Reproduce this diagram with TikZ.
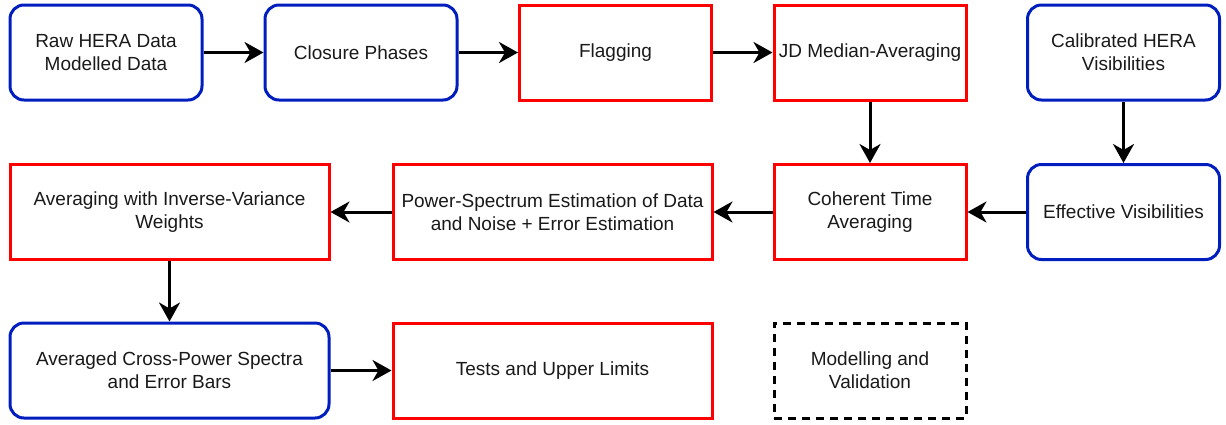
\documentclass[tikz,border=0pt]{standalone}
\usepackage{fontspec}
\setmainfont{Liberation Sans}
\usetikzlibrary{arrows.meta}
\definecolor{bblue}{RGB}{0,30,190}
\definecolor{rred}{RGB}{255,0,0}
\begin{document}
\begin{tikzpicture}[x=1pt,y=-1pt,
 box/.style={minimum height=95pt, inner sep=1pt, align=center, line width=3pt, font=\fontsize{19}{23}\selectfont, text=black!90},
 bluebox/.style={box, draw=bblue, rounded corners=14pt},
 redbox/.style={box, draw=rred},
 dashbox/.style={box, draw=black, dash pattern=on 8pt off 6pt},
 narrow/.style={minimum width=192pt},
 wide/.style={minimum width=319pt},
 arr/.style={-{Stealth[length=19pt,width=21pt,inset=6pt]}, line width=3pt}]
\useasboundingbox (0,0) rectangle (1226,424);
\node[bluebox,narrow] (raw) at (106,52.5) {Raw HERA Data\\Modelled Data};
\node[bluebox,narrow] (clo) at (361,52.5) {Closure Phases};
\node[redbox,narrow] (flag) at (615.5,52.5) {Flagging};
\node[redbox,narrow] (jd) at (870,52.5) {JD Median-Averaging};
\node[bluebox,narrow] (cal) at (1123.5,52.5) {Calibrated HERA\\Visibilities};
\node[redbox,wide] (avg) at (169.5,212) {Averaging with Inverse-Variance\\Weights};
\node[redbox,wide] (ps) at (552.5,212) {Power-Spectrum Estimation of Data\\and Noise + Error Estimation};
\node[redbox,narrow] (coh) at (870,212) {Coherent Time\\Averaging};
\node[bluebox,narrow] (eff) at (1123.5,212) {Effective Visibilities};
\node[bluebox,wide] (cross) at (169.5,370.5) {Averaged Cross-Power Spectra\\and Error Bars};
\node[redbox,wide] (tests) at (552.5,370.5) {Tests and Upper Limits};
\node[dashbox,narrow] (model) at (870,370.5) {Modelling and\\Validation};
\draw[arr] (raw) -- (clo);
\draw[arr] (clo) -- (flag);
\draw[arr] (flag) -- (jd);
\draw[arr] (jd) -- (coh);
\draw[arr] (cal) -- (eff);
\draw[arr] (eff) -- (coh);
\draw[arr] (coh) -- (ps);
\draw[arr] (ps) -- (avg);
\draw[arr] (avg) -- (cross);
\draw[arr] (cross) -- (tests);
\end{tikzpicture}
\end{document}
